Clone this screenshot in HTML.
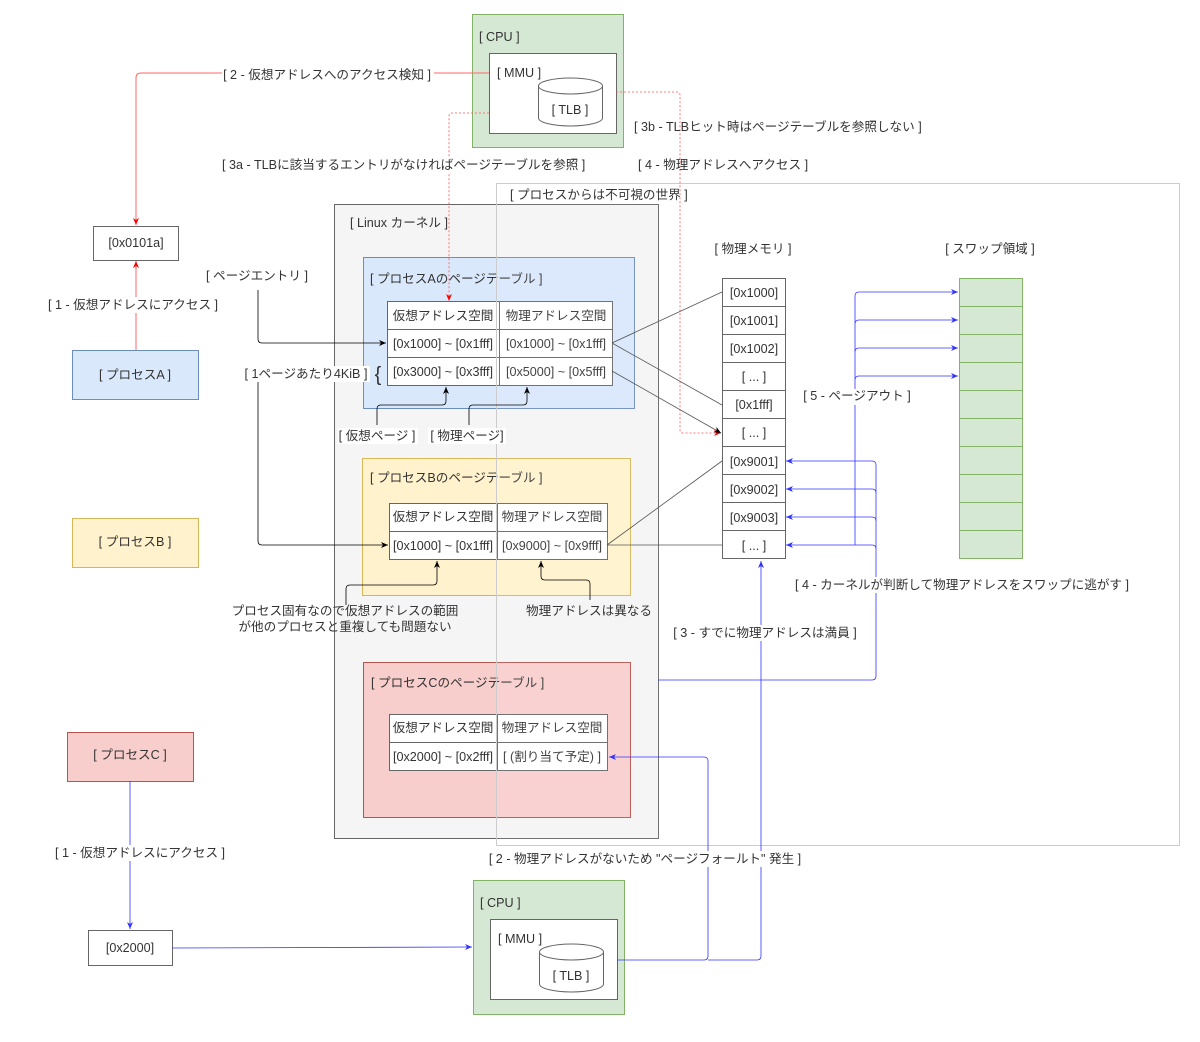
<!DOCTYPE html>
<html><head><meta charset="utf-8"><style>
html,body{margin:0;padding:0;background:#fff;}
svg{display:block;}
text{font-family:"Liberation Sans","Noto Sans CJK JP",sans-serif;font-size:12.6px;fill:#333;}
.m{text-anchor:middle;}
.lb{fill:#fff;}
</style></head><body>
<svg width="1200" height="1042" viewBox="0 0 1200 1042" xmlns="http://www.w3.org/2000/svg">
<defs>
<marker id="ar" markerWidth="8" markerHeight="8" refX="7" refY="4" orient="auto" markerUnits="userSpaceOnUse"><path d="M0,1 L7,4 L0,7 L2,4z" fill="#ff0000"/></marker>
<marker id="ab" markerWidth="8" markerHeight="8" refX="7" refY="4" orient="auto" markerUnits="userSpaceOnUse"><path d="M0,1 L7,4 L0,7 L2,4z" fill="#3333ff"/></marker>
<marker id="ak" markerWidth="8" markerHeight="8" refX="7" refY="4" orient="auto" markerUnits="userSpaceOnUse"><path d="M0,1 L7,4 L0,7 L2,4z" fill="#000"/></marker>
</defs>

<!-- CPU top -->
<rect x="472.5" y="14.5" width="151" height="133" fill="#d5e8d4" stroke="#82b366"/>
<text x="479" y="41">[ CPU ]</text>
<rect x="489.5" y="53.5" width="127" height="80" fill="#fff" stroke="#666"/>
<text x="497" y="77">[ MMU ]</text>
<path d="M538.5,86 A32,8 0 0 1 602.5,86 L602.5,118 A32,8 0 0 1 538.5,118 Z" fill="#fff" stroke="#666"/>
<path d="M538.5,86 A32,8 0 0 0 602.5,86" fill="none" stroke="#666"/>
<text x="570" y="114" class="m">[ TLB ]</text>

<!-- kernel -->
<rect x="334.5" y="204.5" width="324" height="634" fill="#f5f5f5" stroke="#666"/>
<text x="350" y="227">[ Linux カーネル ]</text>

<!-- Process A table -->
<rect x="363.5" y="257.5" width="271" height="151" fill="#dae8fc" stroke="#6c8ebf"/>
<text x="370" y="283">[ プロセスAのページテーブル ]</text>
<g fill="#fff" stroke="#666">
<rect x="387.5" y="301.5" width="112" height="28"/><rect x="499.5" y="301.5" width="113" height="28"/>
<rect x="387.5" y="329.5" width="112" height="28"/><rect x="499.5" y="329.5" width="113" height="28"/>
<rect x="387.5" y="357.5" width="112" height="28"/><rect x="499.5" y="357.5" width="113" height="28"/>
</g>
<text x="443" y="320" class="m">仮想アドレス空間</text><text x="556" y="320" class="m">物理アドレス空間</text>
<text x="443" y="348" class="m">[0x1000] ~ [0x1fff]</text><text x="556" y="348" class="m">[0x1000] ~ [0x1fff]</text>
<text x="443" y="376" class="m">[0x3000] ~ [0x3fff]</text><text x="556" y="376" class="m">[0x5000] ~ [0x5fff]</text>

<!-- Process B table -->
<rect x="362.5" y="458.5" width="268" height="137" fill="#fff2cc" stroke="#d6b656"/>
<text x="370" y="482">[ プロセスBのページテーブル ]</text>
<g fill="#fff" stroke="#666">
<rect x="389.5" y="503.5" width="108" height="28"/><rect x="497.5" y="503.5" width="110" height="28"/>
<rect x="389.5" y="531.5" width="108" height="28"/><rect x="497.5" y="531.5" width="110" height="28"/>
</g>
<text x="443" y="521" class="m">仮想アドレス空間</text><text x="552" y="521" class="m">物理アドレス空間</text>
<text x="443" y="550" class="m">[0x1000] ~ [0x1fff]</text><text x="552" y="550" class="m">[0x9000] ~ [0x9fff]</text>

<!-- Process C table -->
<rect x="363.5" y="662.5" width="267" height="155" fill="#f8cecc" stroke="#b85450"/>
<text x="371" y="687">[ プロセスCのページテーブル ]</text>
<g fill="#fff" stroke="#666">
<rect x="389.5" y="714.5" width="108" height="28"/><rect x="497.5" y="714.5" width="110" height="28"/>
<rect x="389.5" y="742.5" width="108" height="28"/><rect x="497.5" y="742.5" width="110" height="28"/>
</g>
<text x="443" y="732" class="m">仮想アドレス空間</text><text x="552" y="732" class="m">物理アドレス空間</text>
<text x="443" y="761" class="m">[0x2000] ~ [0x2fff]</text><text x="552" y="761" class="m">[ (割り当て予定) ]</text>

<!-- invisible world -->
<rect x="496.5" y="183.5" width="683" height="662" fill="rgba(255,255,255,0.08)" stroke="#ccc"/>
<text x="510" y="199">[ プロセスからは不可視の世界 ]</text>

<!-- physical memory -->
<text x="753" y="253" class="m">[ 物理メモリ ]</text>
<g fill="#fff" stroke="#666">
<rect x="722.5" y="278.5" width="63" height="28"/><rect x="722.5" y="306.5" width="63" height="28"/>
<rect x="722.5" y="334.5" width="63" height="28"/><rect x="722.5" y="362.5" width="63" height="28"/>
<rect x="722.5" y="390.5" width="63" height="28"/><rect x="722.5" y="418.5" width="63" height="28"/>
<rect x="722.5" y="446.5" width="63" height="28"/><rect x="722.5" y="474.5" width="63" height="28"/>
<rect x="722.5" y="502.5" width="63" height="28"/><rect x="722.5" y="530.5" width="63" height="28"/>
</g>
<text x="754" y="297" class="m">[0x1000]</text><text x="754" y="325" class="m">[0x1001]</text>
<text x="754" y="353" class="m">[0x1002]</text><text x="754" y="381" class="m">[ ... ]</text>
<text x="754" y="409" class="m">[0x1fff]</text><text x="754" y="437" class="m">[ ... ]</text>
<text x="754" y="466" class="m">[0x9001]</text><text x="754" y="494" class="m">[0x9002]</text>
<text x="754" y="522" class="m">[0x9003]</text><text x="754" y="550" class="m">[ ... ]</text>

<!-- swap -->
<text x="990" y="253" class="m">[ スワップ領域 ]</text>
<g fill="#d5e8d4" stroke="#82b366">
<rect x="959.5" y="278.5" width="63" height="28"/><rect x="959.5" y="306.5" width="63" height="28"/>
<rect x="959.5" y="334.5" width="63" height="28"/><rect x="959.5" y="362.5" width="63" height="28"/>
<rect x="959.5" y="390.5" width="63" height="28"/><rect x="959.5" y="418.5" width="63" height="28"/>
<rect x="959.5" y="446.5" width="63" height="28"/><rect x="959.5" y="474.5" width="63" height="28"/>
<rect x="959.5" y="502.5" width="63" height="28"/><rect x="959.5" y="530.5" width="63" height="28"/>
</g>

<!-- left boxes -->
<rect x="93.5" y="226.5" width="85" height="34" fill="#fff" stroke="#666"/>
<text x="136" y="247" class="m">[0x0101a]</text>
<rect x="72.5" y="350.5" width="126" height="49" fill="#dae8fc" stroke="#6c8ebf"/>
<text x="135" y="379" class="m">[ プロセスA ]</text>
<rect x="72.5" y="518.5" width="126" height="49" fill="#fff2cc" stroke="#d6b656"/>
<text x="135" y="546" class="m">[ プロセスB ]</text>
<rect x="67.5" y="732.5" width="126" height="49" fill="#f8cecc" stroke="#b85450"/>
<text x="130" y="759" class="m">[ プロセスC ]</text>
<rect x="88.5" y="930.5" width="84" height="35" fill="#fff" stroke="#666"/>
<text x="130" y="952" class="m">[0x2000]</text>

<!-- CPU bottom -->
<rect x="473.5" y="880.5" width="151" height="134" fill="#d5e8d4" stroke="#82b366"/>
<text x="480" y="907">[ CPU ]</text>
<rect x="490.5" y="919.5" width="127" height="80" fill="#fff" stroke="#666"/>
<text x="498" y="943">[ MMU ]</text>
<path d="M539.5,952 A32,8 0 0 1 603.5,952 L603.5,984 A32,8 0 0 1 539.5,984 Z" fill="#fff" stroke="#666"/>
<path d="M539.5,952 A32,8 0 0 0 603.5,952" fill="none" stroke="#666"/>
<text x="571" y="980" class="m">[ TLB ]</text>

<!-- red lines -->
<path d="M489,73 H141 Q136,73 136,78 V225" fill="none" stroke="#ff6666" stroke-width="1" marker-end="url(#ar)"/>
<path d="M136,350 V261" fill="none" stroke="#ff6666" marker-end="url(#ar)"/>
<path d="M489,113 H452 Q449,113 449,116 V301" fill="none" stroke="#ff5555" stroke-width="0.8" stroke-dasharray="2,2" marker-end="url(#ar)"/>
<path d="M616,92 H677 Q680,92 680,95 V430 Q680,433 683,433 H721" fill="none" stroke="#ff5555" stroke-width="0.8" stroke-dasharray="2,2" marker-end="url(#ar)"/>

<!-- black lines -->
<path d="M258,290 V339 Q258,343 262,343 H386" fill="none" stroke="#000" stroke-width="0.8" marker-end="url(#ak)"/>
<path d="M258,380 V541 Q258,545 262,545 H388" fill="none" stroke="#000" stroke-width="0.8" marker-end="url(#ak)"/>
<path d="M377,425 V409 Q377,405 381,405 H442 Q446,405 446,401 V387" fill="none" stroke="#000" stroke-width="0.8" marker-end="url(#ak)"/>
<path d="M469,425 V409 Q469,405 473,405 H523 Q527,405 527,401 V387" fill="none" stroke="#000" stroke-width="0.8" marker-end="url(#ak)"/>
<path d="M346,605 V589 Q346,585 350,585 H433 Q437,585 437,581 V561" fill="none" stroke="#000" stroke-width="0.8" marker-end="url(#ak)"/>
<path d="M590,600 V584 Q590,580 586,580 H545 Q541,580 541,576 V561" fill="none" stroke="#000" stroke-width="0.8" marker-end="url(#ak)"/>
<text x="378" y="381" style="font-size:20px;font-weight:100" class="m">{</text>

<!-- grey mapping lines -->
<g stroke="#555" stroke-width="0.8" fill="none">
<path d="M612,343 L722,292"/><path d="M612,343 L722,405"/>
<path d="M607,545 L722,461"/><path d="M607,545 H722"/>
</g>
<path d="M612,371 L721,433" stroke="#555" stroke-width="0.8" fill="none" marker-end="url(#ak)"/>

<!-- blue lines -->
<g stroke="#3333ff" stroke-width="0.8" fill="none">
<path d="M855,545 V296 Q855,292 859,292 H958" marker-end="url(#ab)"/>
<path d="M855,324 Q855,320 859,320 H958" marker-end="url(#ab)"/>
<path d="M855,352 Q855,348 859,348 H958" marker-end="url(#ab)"/>
<path d="M855,380 Q855,376 859,376 H958" marker-end="url(#ab)"/>
<path d="M658,680 H872 Q876,680 876,676 V465 Q876,461 872,461 H786" marker-end="url(#ab)"/>
<path d="M876,493 Q876,489 872,489 H786" marker-end="url(#ab)"/>
<path d="M876,521 Q876,517 872,517 H786" marker-end="url(#ab)"/>
<path d="M876,549 Q876,545 872,545 H786" marker-end="url(#ab)"/>
<path d="M130,781 V929" marker-end="url(#ab)"/>
<path d="M172,948 L472,947" marker-end="url(#ab)"/>
<path d="M617,960 H704 Q708,960 708,956 V761 Q708,757 704,757 H609" marker-end="url(#ab)"/>
<path d="M708,960 H757 Q761,960 761,956 V561" marker-end="url(#ab)"/>
</g>

<!-- labels with white bg -->
<rect x="222" y="66" width="212" height="16" class="lb"/>
<text x="327" y="79" class="m">[ 2 - 仮想アドレスへのアクセス検知 ]</text>
<rect x="46" y="297" width="176" height="16" class="lb"/>
<text x="133" y="309" class="m">[ 1 - 仮想アドレスにアクセス ]</text>
<text x="634" y="131">[ 3b - TLBヒット時はページテーブルを参照しない ]</text>
<rect x="222" y="157" width="368" height="16" class="lb"/>
<text x="222" y="169">[ 3a - TLBに該当するエントリがなければページテーブルを参照 ]</text>
<text x="638" y="169">[ 4 - 物理アドレスへアクセス ]</text>
<text x="257" y="280" class="m">[ ページエントリ ]</text>
<rect x="242" y="366" width="128" height="16" class="lb"/>
<text x="306" y="378" class="m">[ 1ページあたり4KiB ]</text>
<rect x="338" y="428" width="80" height="16" class="lb"/>
<text x="377" y="440" class="m">[ 仮想ページ ]</text>
<rect x="428" y="428" width="78" height="16" class="lb"/>
<text x="467" y="440" class="m">[ 物理ページ]</text>
<text x="345" y="615" class="m">プロセス固有なので仮想アドレスの範囲</text>
<text x="345" y="631" class="m">が他のプロセスと重複しても問題ない</text>
<text x="589" y="615" class="m">物理アドレスは異なる</text>
<rect x="800" y="389" width="114" height="16" class="lb"/>
<text x="857" y="400" class="m">[ 5 - ページアウト ]</text>
<rect x="792" y="577" width="340" height="16" class="lb"/>
<text x="962" y="589" class="m">[ 4 - カーネルが判断して物理アドレスをスワップに逃がす ]</text>
<rect x="672" y="625" width="186" height="16" class="lb"/>
<text x="765" y="637" class="m">[ 3 - すでに物理アドレスは満員 ]</text>
<rect x="44" y="845" width="194" height="16" class="lb"/>
<text x="140" y="857" class="m">[ 1 - 仮想アドレスにアクセス ]</text>
<rect x="486" y="851" width="318" height="16" class="lb"/>
<text x="645" y="863" class="m">[ 2 - 物理アドレスがないため "ページフォールト" 発生 ]</text>
</svg>
</body></html>
